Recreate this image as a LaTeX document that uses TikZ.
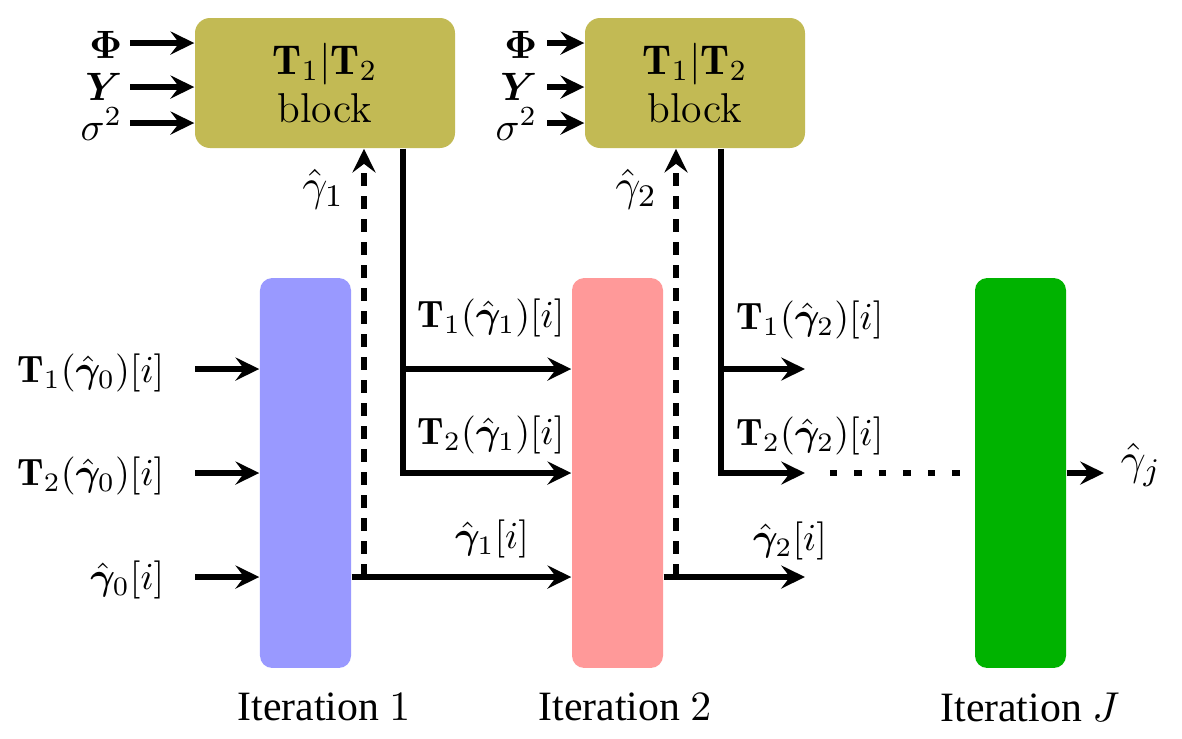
\RequirePackage{fix-cm}
\documentclass[tikz,border=0pt]{standalone}
\usepackage{amsmath,bm}
\usepackage{fontspec}
\newfontfamily\timesfont{Liberation Serif}
\usetikzlibrary{arrows.meta}
\definecolor{blockol}{RGB}{194,186,84}
\definecolor{itblue}{RGB}{153,153,255}
\definecolor{itred}{RGB}{255,153,153}
\definecolor{itgreen}{RGB}{0,179,0}
\tikzset{
  arr/.style={line width=1.5pt,-{Stealth[length=6.6pt,width=6.4pt,inset=2.4pt]}},
  plain/.style={line width=1.5pt},
  dashln/.style={line width=1.5pt,dash pattern=on 3.6pt off 2.8pt},
  dotln/.style={line width=1.8pt,dash pattern=on 2pt off 4.8pt},
  lab/.style={inner sep=0pt,font=\fontsize{10.6}{12}\selectfont},
  inlab/.style={inner sep=0pt,font=\fontsize{11}{12}\selectfont},
  glab/.style={inner sep=0pt,font=\fontsize{12.5}{14}\selectfont},
  blockbox/.style={fill=blockol,rounded corners=4.2pt,inner sep=0pt,
    minimum width=#1,minimum height=36.14pt,align=center,
    font=\fontsize{11.6}{13.2}\selectfont},
  iterbox/.style={fill=#1,rounded corners=3.4pt,inner sep=0pt,
    minimum width=25.3pt,minimum height=108.4pt},
  itlab/.style={inner sep=0pt,font=\timesfont\fontsize{11.6}{14}\selectfont}
}
\begin{document}
\begin{tikzpicture}[x=0.278pt,y=-0.278pt]
\useasboundingbox (0,0) rectangle (1182,738);
% blocks
\node[blockbox=72.28pt] (b1) at (325,83) {$\mathbf{T}_1|\mathbf{T}_2$\\block};
\node[blockbox=61.16pt] (b2) at (695,83) {$\mathbf{T}_1|\mathbf{T}_2$\\block};
% rows
\coordinate (r1) at (0,369);
\coordinate (r2) at (0,473);
\coordinate (r3) at (0,577);
% dotted line drawn under the green box
\coordinate (dstart) at (830,473);
\draw[dotln] (dstart) -- (975,473);
% iteration boxes
\node[iterbox=itblue] (i1) at (305.5,473) {};
\node[iterbox=itred] (i2) at (617.5,473) {};
\node[iterbox=itgreen] (iJ) at (1020.5,473) {};
% iteration labels
\node[itlab] (l1) at (324,707) {Iteration $1$};
\node[itlab] (l2) at (625,707) {Iteration $2$};
\node[itlab] (lJ) at (1030,707) {Iteration $J$};
% inputs to block 1
\coordinate (pA) at (130,43);
\coordinate (yA) at (130,87);
\coordinate (sA) at (130,123);
\node[inlab,anchor=east] (phiA) at (123,45) {$\bm{\Phi}$};
\node[inlab,anchor=east] (YA) at (123,87) {$\bm{Y}$};
\node[inlab,anchor=east] (sigA) at (123,124) {$\sigma^2$};
\draw[arr] (pA) -- (pA -| b1.west);
\draw[arr] (yA) -- (yA -| b1.west);
\draw[arr] (sA) -- (sA -| b1.west);
% inputs to block 2
\coordinate (pB) at (547,43);
\coordinate (yB) at (547,87);
\coordinate (sB) at (547,123);
\node[inlab,anchor=east] (phiB) at (538,45) {$\bm{\Phi}$};
\node[inlab,anchor=east] (YB) at (538,87) {$\bm{Y}$};
\node[inlab,anchor=east] (sigB) at (538,124) {$\sigma^2$};
\draw[arr] (pB) -- (pB -| b2.west);
\draw[arr] (yB) -- (yB -| b2.west);
\draw[arr] (sB) -- (sB -| b2.west);
% inputs to iteration 1
\coordinate (in) at (195,0);
\node[lab,anchor=east] (t10) at (165,373) {$\mathbf{T}_1(\hat{\bm{\gamma}}_0)[i]$};
\node[lab,anchor=east] (t20) at (165,476) {$\mathbf{T}_2(\hat{\bm{\gamma}}_0)[i]$};
\node[lab,anchor=east] (g0) at (165,580) {$\hat{\bm{\gamma}}_0[i]$};
\draw[arr] (in |- r1) -- (r1 -| i1.west);
\draw[arr] (in |- r2) -- (r2 -| i1.west);
\draw[arr] (in |- r3) -- (r3 -| i1.west);
% iteration 1 -> iteration 2
\coordinate (d1) at (364,0);
\coordinate (s1) at (403,0);
\draw[arr] (r3 -| i1.east) -- (r3 -| i2.west);
\draw[dashln,-{Stealth[length=6.6pt,width=6.4pt,inset=2.4pt]}] (d1 |- r3) -- (d1 |- b1.south);
\draw[arr] (s1 |- b1.south) -- (s1 |- r2) -- (r2 -| i2.west);
\draw[arr] (s1 |- r1) -- (r1 -| i2.west);
\node[glab] (g1top) at (323,189) {$\hat{\gamma}_1$};
\node[lab] (t11) at (491,318) {$\mathbf{T}_1(\hat{\bm{\gamma}}_1)[i]$};
\node[lab] (t21) at (491,435) {$\mathbf{T}_2(\hat{\bm{\gamma}}_1)[i]$};
\node[lab] (g1) at (492,539) {$\hat{\bm{\gamma}}_1[i]$};
% iteration 2 -> next
\coordinate (d2) at (676,0);
\coordinate (s2) at (721,0);
\coordinate (e2) at (805,0);
\draw[arr] (r3 -| i2.east) -- (r3 -| e2);
\draw[dashln,-{Stealth[length=6.6pt,width=6.4pt,inset=2.4pt]}] (d2 |- r3) -- (d2 |- b2.south);
\draw[arr] (s2 |- b2.south) -- (s2 |- r2) -- (r2 -| e2);
\draw[arr] (s2 |- r1) -- (r1 -| e2);
\node[glab] (g2top) at (636,189) {$\hat{\gamma}_2$};
\node[lab] (t12) at (810,320) {$\mathbf{T}_1(\hat{\bm{\gamma}}_2)[i]$};
\node[lab] (t22) at (810,436) {$\mathbf{T}_2(\hat{\bm{\gamma}}_2)[i]$};
\node[lab] (g2) at (790,541) {$\hat{\bm{\gamma}}_2[i]$};
% output
\coordinate (outtip) at (1104,473);
\draw[arr] (r2 -| iJ.east) -- (outtip);
\node[glab,anchor=west] (gj) at (1120,465) {$\hat{\gamma}_j$};
\end{tikzpicture}
\end{document}
